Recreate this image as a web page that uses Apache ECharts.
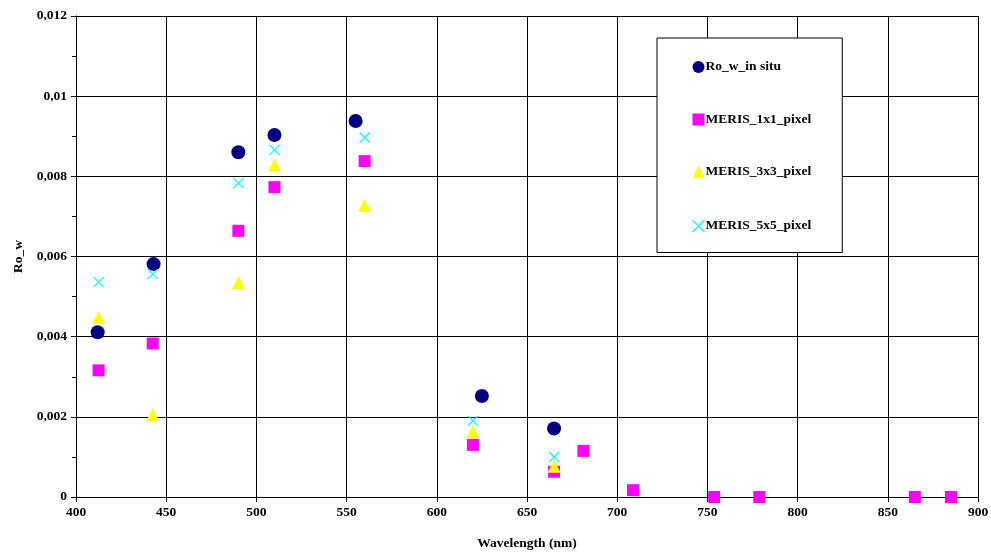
<!DOCTYPE html>
<html><head><meta charset="utf-8">
<script src="https://cdn.jsdelivr.net/npm/echarts@6/dist/echarts.min.js"></script>
<style>html,body{margin:0;padding:0;background:#fff}#c{width:991px;height:552px}</style>
</head><body><div id="c"></div>
<script>
// wavelengths (nm)
var inSituWl = [412, 443, 490, 510, 555, 625, 665];
var inSituVal = [0.00411, 0.00581, 0.00860, 0.00903, 0.00938, 0.00252, 0.00171];
var meris1Wl = [412.5, 442.5, 490, 510, 560, 620, 665, 681.25, 708.75, 753.75, 778.75, 865, 885];
var meris1Val = [0.00316, 0.00383, 0.00664, 0.00773, 0.00838, 0.00130, 0.00063, 0.00115, 0.00017, 0, 0, 0, 0];
var meris3Wl = [412.5, 442.5, 490, 510, 560, 620, 665];
var meris3Val = [0.00448, 0.00205, 0.00535, 0.00828, 0.00728, 0.00163, 0.00077];
var meris5Wl = [412.5, 442.5, 490, 510, 560, 620, 665];
var meris5Val = [0.00536, 0.00556, 0.00783, 0.00866, 0.00897, 0.00190, 0.00100];
var seriesNames = ['Ro_w_in situ', 'MERIS_1x1_pixel', 'MERIS_3x3_pixel', 'MERIS_5x5_pixel'];

function pairs(xs, ys){ return xs.map(function(x,i){ return [x, ys[i]]; }); }
var crossPath = 'path://M0,0L10,10M10,0L0,10';
var font = 'Liberation Serif';
var fs = 13.5;
var chart = echarts.init(document.getElementById('c'));
chart.setOption({
  animation: false,
  grid: {left: 76, right: 13, top: 16, bottom: 55, outerBoundsMode: 'none', containLabel: false},
  textStyle: {fontFamily: font},
  legend: {
    orient: 'vertical', left: 657, top: 38,
    padding: [22, 31, 18, 33], itemGap: 38.5, itemWidth: 12, itemHeight: 12,
    borderColor: '#000', borderWidth: 1, backgroundColor: '#fff',
    textStyle: {fontFamily: font, fontWeight: 'bold', fontSize: fs, color: '#000', padding: [0,0,0,-4]},
    data: [
      {name: seriesNames[0], icon: 'circle'},
      {name: seriesNames[1], icon: 'rect'},
      {name: seriesNames[2], icon: 'triangle'},
      {name: seriesNames[3], icon: crossPath, itemStyle: {color: 'none', borderColor: '#00FFFF', borderWidth: 1.3}}
    ]
  },
  xAxis: {
    type: 'value', min: 400, max: 900, interval: 50,
    name: 'Wavelength (nm)', nameLocation: 'middle', nameGap: 40,
    nameTextStyle: {fontFamily: font, fontWeight: 'bold', fontSize: fs, color: '#000'},
    axisLine: {onZero: false, lineStyle: {color: '#000', width: 1}},
    axisTick: {show: true, length: 5, lineStyle: {color: '#000'}},
    axisLabel: {fontFamily: font, fontWeight: 'bold', fontSize: fs, color: '#000', margin: 9},
    splitLine: {show: true, lineStyle: {color: '#000', width: 1}}
  },
  yAxis: {
    type: 'value', min: 0, max: 0.012, interval: 0.002,
    name: 'Ro_w', nameLocation: 'middle', nameGap: 50, nameRotate: 90,
    nameTextStyle: {fontFamily: font, fontWeight: 'bold', fontSize: fs, color: '#000'},
    axisLine: {show: true, lineStyle: {color: '#000', width: 1}},
    axisTick: {show: true, length: 5, lineStyle: {color: '#000'}},
    minorTick: {show: true, splitNumber: 2, length: 4, lineStyle: {color: '#000'}},
    axisLabel: {fontFamily: font, fontWeight: 'bold', fontSize: fs, color: '#000', margin: 9,
      formatter: function(v){ return String(parseFloat(v.toFixed(4))).replace('.', ','); }},
    splitLine: {show: true, lineStyle: {color: '#000', width: 1}}
  },
  series: [
    {name: seriesNames[0], type: 'scatter', symbol: 'circle', symbolSize: 14,
     itemStyle: {color: '#000080', opacity: 1}, data: pairs(inSituWl, inSituVal)},
    {name: seriesNames[1], type: 'scatter', symbol: 'rect', symbolSize: 12,
     itemStyle: {color: '#FF00FF', opacity: 1}, data: pairs(meris1Wl, meris1Val)},
    {name: seriesNames[2], type: 'scatter', symbol: 'triangle', symbolSize: 13,
     itemStyle: {color: '#FFFF00', opacity: 1}, data: pairs(meris3Wl, meris3Val)},
    {name: seriesNames[3], type: 'scatter', symbol: crossPath, symbolSize: 10,
     itemStyle: {color: 'none', borderColor: '#00FFFF', borderWidth: 1.3, opacity: 1}, data: pairs(meris5Wl, meris5Val)}
  ]
});
</script></body></html>
